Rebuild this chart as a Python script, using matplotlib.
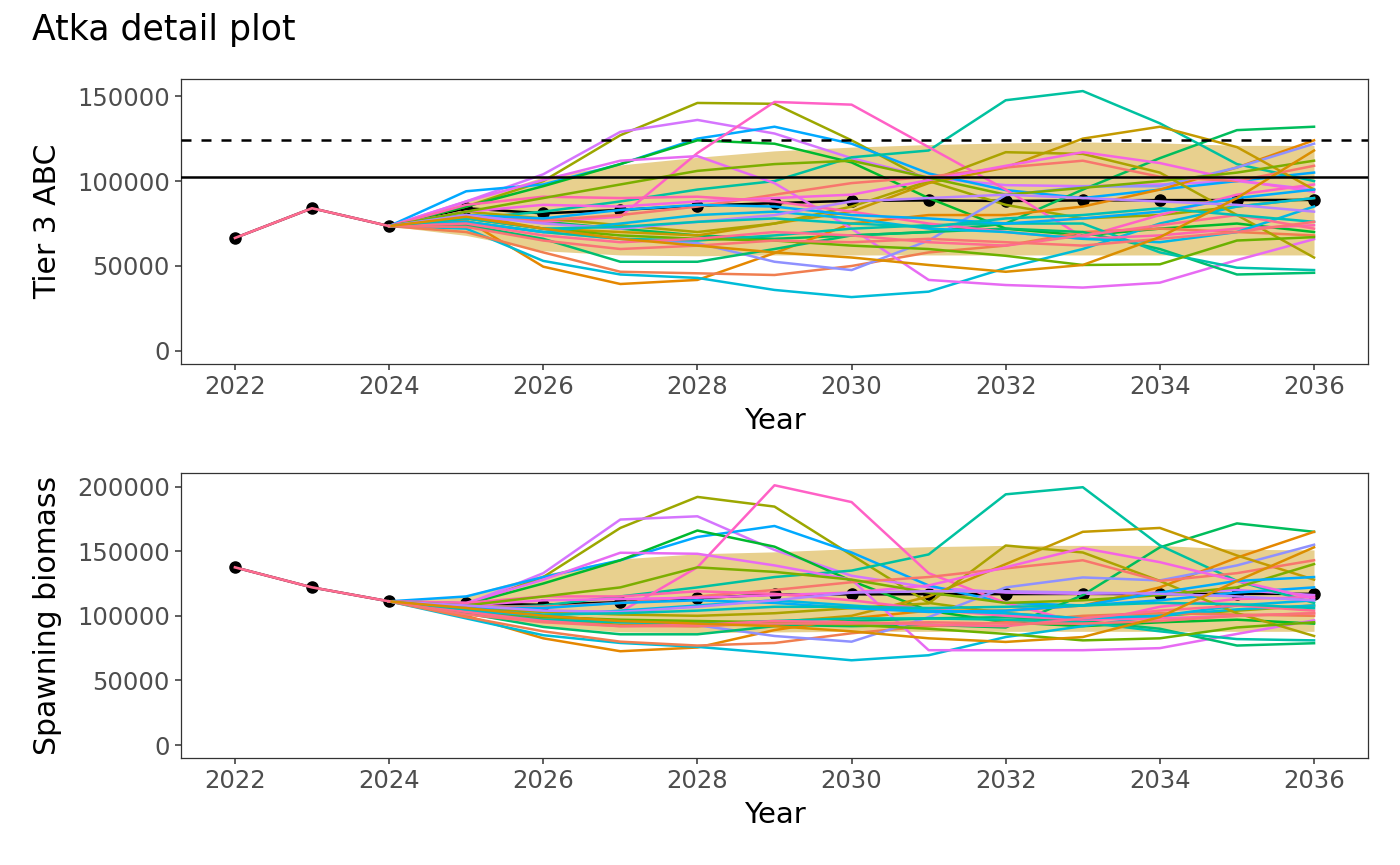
import matplotlib
matplotlib.use("Agg")
import matplotlib.pyplot as plt

# years
hist_years = [2022, 2023, 2024]
proj_years = list(range(2025, 2037))
all_years = hist_years + proj_years

# observed history (shared by every simulation)
abc_hist = [66500, 84000, 73500]
ssb_hist = [137500, 122000, 111200]

# mean of simulations, 2025-2036
abc_mean = [84000, 81000, 83000, 85500, 87000, 88400, 88600, 88300, 88600, 88800, 88800, 88900]
ssb_mean = [109600, 108500, 110600, 113700, 116500, 116600, 116800, 116800, 117000, 116800, 117000, 117000]

# quantile band, 2024-2036
band_years = [2024] + proj_years
abc_lo = [73500, 68000, 59000, 56500, 56000, 56500, 56500, 56500, 56500, 56500, 56500, 56500, 56500]
abc_hi = [73500, 88000, 102500, 109500, 114000, 117800, 120000, 121500, 122500, 123000, 122500, 121000, 121000]
ssb_lo = [111200, 101000, 92000, 87500, 87000, 87500, 88000, 88000, 88000, 88000, 88000, 88000, 88000]
ssb_hi = [111200, 116000, 132000, 144000, 148000, 149500, 152000, 153500, 154500, 154500, 154500, 151500, 151000]

# reference levels on the ABC panel
abc_solid = 102400
abc_dashed = 124100

# simulation colours
sim_colors = ['#9CA700', '#D575FE', '#00A9FF', '#00B92E', '#00BD5C', '#00C1A0',
              '#FF61C6', '#E58700', '#00BCD8', '#F07E50', '#E76BF3', '#8F91FF',
              '#C49A00', '#ABA300', '#00BE70', '#00C1AA', '#F8766D', '#F564E3',
              '#FF64B0', '#7CAE00', '#6BB100', '#00B8E5', '#00ADFA', '#B983FF',
              '#FF6C91', '#00C0B8', '#FA7476', '#DB8E00']

# simulated ABC (thousands t), 2025-2036
abc_sims = [
    [85, 100, 127, 146, 145.5, 124, 100, 86, 78, 80, 85, 90],
    [88, 104, 129, 136, 128, 113.5, 102, 97.6, 97, 98, 100, 95],
    [94, 98, 110, 125, 132, 122, 104.5, 94.7, 90, 95, 100, 105],
    [85, 97, 110, 124, 122, 111, 90, 72, 68, 72, 75, 70],
    [80, 76, 72, 68, 66, 68, 70, 75, 95, 113.5, 130, 132],
    [78, 82, 88, 95, 100, 114, 118, 147.6, 153, 134, 110, 100],
    [80, 76, 79, 116.5, 146.6, 145, 120, 95, 67, 80, 92, 98],
    [77, 49.6, 39.4, 41.8, 57.6, 75, 80, 80, 85, 95, 108, 124],
    [72, 53, 45, 43, 35.9, 31.7, 34.9, 48.8, 60, 75, 85, 90],
    [70, 58, 46.6, 45.7, 44.7, 50, 58, 62, 70, 72, 70, 68],
    [88, 100.6, 112, 114.7, 98.8, 72, 41.8, 38.8, 37.3, 40.2, 53.5, 65.8],
    [76, 70, 66, 63.5, 52.5, 47.6, 65, 91.7, 96.7, 97, 108, 122],
    [80, 72, 70, 68, 75, 82, 98.8, 108, 125, 132, 120, 95],
    [82, 78, 74, 70, 75, 85, 100, 117, 116, 105, 80, 55],
    [74, 66, 52.5, 52.5, 60, 68, 70, 72, 70, 60, 45, 46],
    [76, 70, 66, 65, 68, 72, 74, 75, 75, 58, 49, 47.6],
    [78, 77, 80, 85, 92, 98.8, 102.5, 108, 112, 102.5, 100, 109],
    [82, 86, 85, 88, 90, 92, 100.6, 109, 117, 110.6, 100.6, 93.7],
    [86, 90.8, 90, 90.8, 88, 82, 75, 70, 66, 68, 72, 74],
    [82, 90, 98, 106, 110, 112, 102, 92, 96, 100, 105, 112],
    [78, 72, 68, 66, 65, 62, 60, 56, 50.6, 51, 65, 67],
    [76, 70, 75, 80, 82, 78, 72, 70, 66, 64, 70, 85],
    [80, 78, 83, 86, 85, 80, 78, 75, 78, 82, 90, 95],
    [80, 75, 72, 76, 80, 88, 90, 92, 90, 88, 86, 82],
    [75, 68, 64, 66, 70, 68, 64, 62, 68, 74, 80, 72],
    [78, 72, 73, 76, 78, 75, 73, 78, 80, 84, 80, 76],
    [73, 65, 60, 62, 65, 64, 66, 64, 62, 66, 70, 76],
    [79, 72, 66, 62, 58, 55, 50.6, 46.6, 50.6, 67, 90, 118],
]

# simulated spawning biomass (thousands t), 2025-2036
ssb_sims = [
    [108, 130, 168, 192, 184.5, 147, 110, 102, 98, 100, 104, 108],
    [109, 133, 174.5, 177, 151, 131, 122, 118, 117, 118, 120, 116],
    [115, 130, 143, 161, 169.5, 149, 123.5, 110, 108, 112, 118, 122],
    [109, 125, 143, 166, 153.5, 127, 104, 95, 92, 95, 97, 94],
    [105, 100, 96, 94, 93, 92, 93, 91, 116, 153, 171.5, 165],
    [106, 108, 115, 122, 130, 135, 147.5, 194, 199.5, 154.5, 127, 110],
    [108, 104, 103, 137.6, 201, 188, 133, 110, 94, 107, 113, 114.5],
    [100, 82.6, 72.6, 75.5, 89, 98, 104, 104, 108, 122, 145, 165],
    [98, 85, 79, 76, 71, 65.6, 69.5, 83.6, 92, 100, 105, 108],
    [99, 88, 80, 77, 79, 86.5, 92, 95, 100, 102, 101, 100],
    [110, 128, 148.8, 148, 139, 128, 73.4, 73.4, 73.4, 75, 86, 96.5],
    [104, 98, 95, 92.7, 84.4, 80, 99, 122, 129.7, 127.4, 139, 155],
    [105, 97, 93, 92, 95, 100, 115, 140, 165, 168, 146.7, 128],
    [106, 103, 101, 100, 102, 106, 109.6, 154.4, 149, 127, 102, 84.4],
    [102, 91.4, 85.7, 85.7, 92, 96, 98, 99, 96, 90, 77, 78.8],
    [103, 97, 95, 94, 96, 98, 98, 97, 95, 88, 82, 81],
    [107, 107, 110, 115, 120, 126, 130, 136.7, 143, 127, 133, 143],
    [108, 112, 113, 114, 116, 118, 123.5, 137.6, 152.4, 141.5, 127, 113.5],
    [110, 115, 115, 119, 117, 112, 105, 100, 97, 98, 100, 102],
    [108, 115, 122, 137.5, 134, 128, 118, 110, 112, 116, 122, 140],
    [104, 99, 97, 96, 95, 93, 90, 86, 81, 82.6, 91, 95],
    [104, 100, 104, 108, 112, 108, 104, 102, 98, 100, 108, 112],
    [106, 106, 110, 112, 110, 106, 103, 104, 108, 118, 127, 130],
    [108, 104, 103, 107, 112, 118, 119, 119, 118, 117, 115, 112],
    [103, 96, 92, 93, 96, 95, 93, 92, 98, 104, 108, 104],
    [105, 101, 102, 104, 107, 107, 106, 107, 108, 110, 109, 106],
    [101, 95, 92, 92, 94, 94, 95, 94, 94, 96, 100, 102],
    [106, 100, 96, 94, 92, 88, 82.6, 79.8, 83.6, 99, 127, 153],
]

tick_col = '#4D4D4D'
frame_col = '#333333'
band_col = '#E8D08E'


def panel(ax, hist, mean, lo, hi, sims, ylabel, yticks, ylim):
    ax.fill_between(band_years, lo, hi, color=band_col, lw=0, zorder=1)
    # mean trajectory sits under the simulations
    ax.plot(all_years, hist + mean, color='black', lw=1.8, zorder=2)
    ax.plot(all_years, hist + mean, 'o', color='black', ms=8, zorder=2)
    for vals, col in zip(sims, sim_colors):
        ys = [hist[-1]] + [v * 1000 for v in vals]
        ax.plot([2024] + proj_years, ys, color=col, lw=1.8, zorder=3)
    # historical part drawn last, as in the original
    ax.plot(hist_years, hist, color=sim_colors[24], lw=1.9, zorder=5)

    ax.set_xlim(2021.3, 2036.7)
    ax.set_ylim(*ylim)
    ax.set_xticks(range(2022, 2037, 2))
    ax.set_yticks(yticks)
    ax.set_yticklabels([str(t) for t in yticks])
    ax.set_xlabel('Year', fontsize=21, labelpad=6)
    ax.set_ylabel(ylabel, fontsize=21.5, labelpad=11)
    ax.tick_params(labelsize=17.5, labelcolor=tick_col, color=frame_col,
                   length=4, width=1.1, pad=4)
    for s in ax.spines.values():
        s.set_color(frame_col)
        s.set_linewidth(0.9)


fig = plt.figure(figsize=(14, 8.65), dpi=100)
ax1 = fig.add_axes([181 / 1400, 1 - 364 / 865, 1187 / 1400, 285 / 865])
ax2 = fig.add_axes([181 / 1400, 1 - 758 / 865, 1187 / 1400, 285 / 865])

panel(ax1, abc_hist, abc_mean, abc_lo, abc_hi, abc_sims, 'Tier 3 ABC',
      [0, 50000, 100000, 150000], (-7700, 160100))
ax1.axhline(abc_solid, color='black', lw=1.8, zorder=6)
ax1.axhline(abc_dashed, color='black', lw=1.8, ls=(0, (4, 4)), zorder=6)

panel(ax2, ssb_hist, ssb_mean, ssb_lo, ssb_hi, ssb_sims, 'Spawning biomass',
      [0, 50000, 100000, 150000, 200000], (-10000, 210500))

fig.text(32 / 1400, 1 - 30 / 865, 'Atka detail plot', fontsize=25, va='center', ha='left')

fig.savefig('out.png', dpi=100)
